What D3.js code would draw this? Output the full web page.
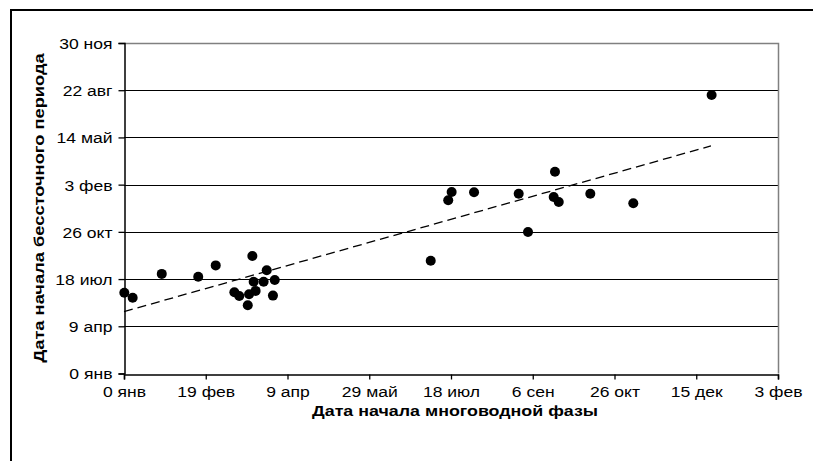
<!DOCTYPE html>
<html>
<head>
<meta charset="utf-8">
<script src="https://cdn.jsdelivr.net/npm/d3@7"></script>
<style>
    body { margin: 0; background: #fff; }
    text { font-family: "Liberation Sans", Arial, sans-serif; fill: #000; }
    .tick-label { font-size: 15px; }
    .axis-title { font-size: 15px; font-weight: bold; }
</style>
</head>
<body>
<div id="chart"></div>
<script>
// day numbers (Excel style, 0 = "0 янв")
var xTicks = [0, 50, 100, 150, 200, 250, 300, 350, 400];
var xTickLabels = ['0 янв', '19 фев', '9 апр', '29 май', '18 июл', '6 сен', '26 окт', '15 дек', '3 фев'];
var yTicks = [0, 100, 200, 300, 400, 500, 600, 700];
var yTickLabels = ['0 янв', '9 апр', '18 июл', '26 окт', '3 фев', '14 май', '22 авг', '30 ноя'];

// start of high-water phase (x) vs start of no-outflow period (y)
var floodStart = [0.2, 5.3, 23.1, 45.4, 56.1, 67.5, 70.5, 76.5, 75.7, 78.5, 79.3, 80.5, 85.4, 87.3, 92.2, 91.1,
    200.4, 198.3, 214.1, 241.4, 263.6, 262.8, 265.9, 285.2, 311.5, 247.1, 187.6, 359.4];
var drainStart = [171, 160.5, 211, 205, 229, 172, 164, 168, 144.5, 249, 194.5, 175, 194.5, 218.6, 198, 165,
    384.4, 366.8, 383.8, 380.8, 427.4, 373.8, 363.2, 380.8, 360.5, 299.7, 238.9, 590];

// linear trend line ends
var trendX = [0, 359];
var trendY = [131, 482];

var w = 813, h = 461;
var plot = { left: 124, right: 778, top: 43, bottom: 373.5 };
var stretch = 1.17; // text in the original is a bit wider than Arial

var svg = d3.select('#chart').append('svg')
    .attr('width', w)
    .attr('height', h);

// outer frame, cut off at right and bottom
svg.append('rect')
    .attr('x', 11).attr('y', 10)
    .attr('width', w + 10).attr('height', h + 10)
    .attr('fill', 'none').attr('stroke', '#000').attr('stroke-width', 2);

var x = d3.scaleLinear().domain([0, 400]).range([plot.left, plot.right]);
var y = d3.scaleLinear().domain([0, 700]).range([plot.bottom, plot.top]);

// gridlines
svg.append('g').selectAll('line')
    .data(yTicks.filter(d => d > 0 && d < 700))
    .enter().append('line')
    .attr('x1', plot.left).attr('x2', plot.right)
    .attr('y1', d => Math.round(y(d)) + 0.5).attr('y2', d => Math.round(y(d)) + 0.5)
    .attr('stroke', '#000').attr('stroke-width', 1);

// plot area border (top/right grey)
svg.append('path')
    .attr('d', `M${plot.left},${Math.round(y(700)) + 0.5}H${plot.right + 0.5}V${plot.bottom}`)
    .attr('fill', 'none').attr('stroke', '#808080').attr('stroke-width', 1.5);

// axes
var xAxis = d3.axisBottom(x).tickValues(xTicks).tickSize(5).tickFormat((d, i) => xTickLabels[i]);
var yAxis = d3.axisLeft(y).tickValues(yTicks).tickSize(6).tickFormat((d, i) => yTickLabels[i]);

var gx = svg.append('g')
    .attr('transform', 'translate(0,' + (Math.round(plot.bottom) + 0.5) + ')')
    .call(xAxis);
var gy = svg.append('g')
    .attr('transform', 'translate(' + (plot.left + 0.5) + ',0)')
    .call(yAxis);

[gx, gy].forEach(g => {
    g.attr('font-size', null).attr('font-family', null);
    g.select('.domain').attr('stroke', '#000').attr('stroke-width', 1.5);
    g.selectAll('.tick line').attr('stroke', '#000').attr('stroke-width', 1.3);
    g.selectAll('.tick text').attr('class', 'tick-label').attr('fill', '#000');
});
gx.selectAll('.tick text')
    .attr('dy', null).attr('y', 23)
    .attr('transform', `scale(${stretch},1)`);
gy.selectAll('.tick text')
    .attr('x', -12 / stretch).attr('dy', '0.36em')
    .attr('transform', `scale(${stretch},1)`);

// trend line
svg.append('line')
    .attr('x1', x(trendX[0])).attr('y1', y(trendY[0]))
    .attr('x2', x(trendX[1])).attr('y2', y(trendY[1]))
    .attr('stroke', '#000').attr('stroke-width', 1.3)
    .attr('stroke-dasharray', '9,5');

// points
svg.append('g').selectAll('circle')
    .data(floodStart)
    .enter().append('circle')
    .attr('cx', d => x(d))
    .attr('cy', (d, i) => y(drainStart[i]))
    .attr('r', 5)
    .attr('fill', '#000');

// axis titles
svg.append('text').attr('class', 'axis-title')
    .attr('text-anchor', 'middle')
    .attr('transform', 'translate(455,416) scale(1.19,1)')
    .text('Дата начала многоводной фазы');

svg.append('text').attr('class', 'axis-title')
    .attr('text-anchor', 'middle')
    .attr('transform', 'translate(44,208) rotate(-90) scale(1.22,1)')
    .text('Дата начала бессточного периода');
</script>
</body>
</html>
